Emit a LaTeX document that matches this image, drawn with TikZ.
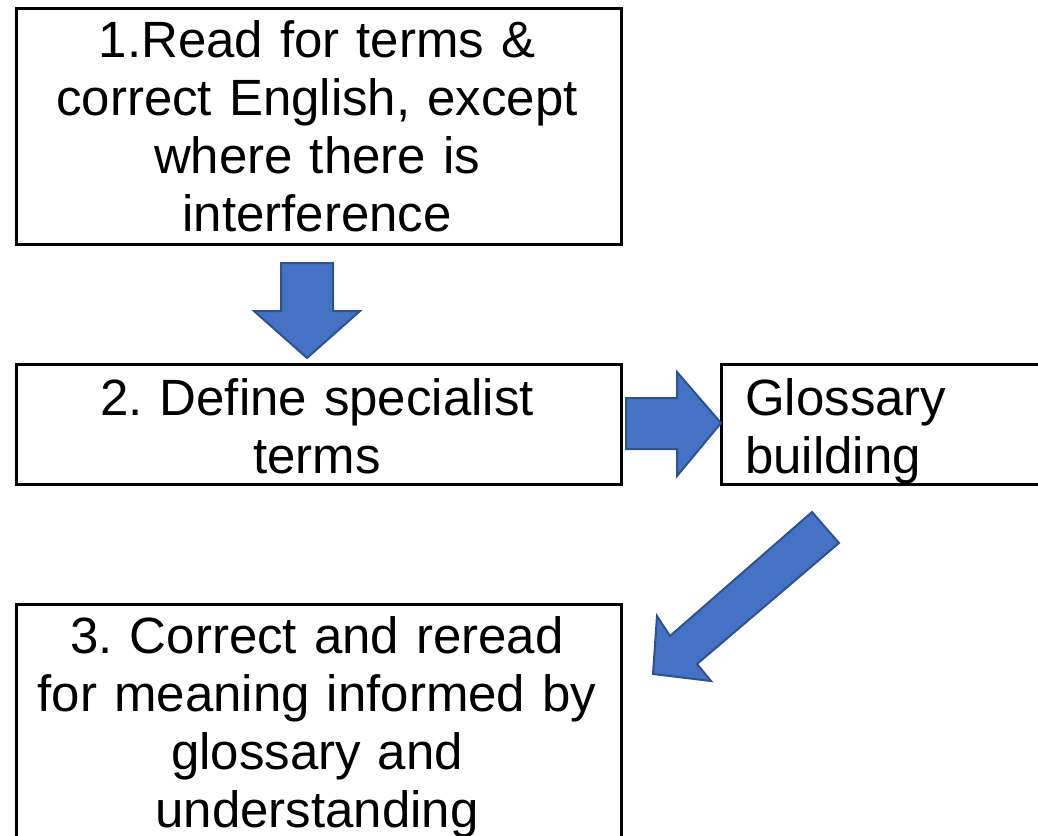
\documentclass[tikz,border=0pt]{standalone}
\usepackage{fontspec}
\setmainfont{Liberation Sans}
\definecolor{arrowfill}{HTML}{4472C4}
\definecolor{arrowline}{HTML}{2F528F}
\begin{document}
\frenchspacing
\begin{tikzpicture}[x=1pt,y=-1pt,
  box/.style={draw=black,line width=3pt,fill=white,anchor=north west,inner sep=0pt},
  txt/.style={font=\fontsize{51}{58}\selectfont,anchor=base,inner sep=0pt,align=center,text width=620pt},
  txtl/.style={font=\fontsize{51}{58}\selectfont,anchor=base west,inner sep=0pt,align=left,text width=300pt},
  blockarrow/.style={fill=arrowfill,draw=arrowline,line width=2pt,line join=miter}]
\useasboundingbox (0,0) rectangle (1038,835);
\fill[white] (0,0) rectangle (1038,835);
% boxes
\node[box,minimum width=605pt,minimum height=236pt] (b1) at (15,7) {};
\node[box,minimum width=605pt,minimum height=120pt] (b2) at (15,363) {};
\node[box,minimum width=340pt,minimum height=120pt] (b4) at (720,363) {};
\node[box,minimum width=605pt,minimum height=260pt] (b3) at (15,603) {};
% texts
\node[txt] (t1) at (317,57) {1.Read for terms \&\\correct English, except\\where there is\\interference};
\node[txt] (t2) at (317,415) {2. Define specialist\\terms};
\node[txtl] (t4) at (745,415) {Glossary\\building};
\node[txt] (t3) at (317,653) {3. Correct and reread\\for meaning informed by\\glossary and\\understanding};
% block arrows
\draw[blockarrow] (281,263) -- (333,263) -- (333,311) -- (360,311) -- (307,358) -- (254,311) -- (281,311) -- cycle;
\draw[blockarrow] (626,398) -- (677,398) -- (677,372) -- (721,423) -- (677,476) -- (677,449) -- (626,449) -- cycle;
\draw[blockarrow] (812,512) -- (839,543) -- (697,664) -- (711,681) -- (653,674) -- (657,616) -- (670,636) -- cycle;
\end{tikzpicture}
\end{document}
